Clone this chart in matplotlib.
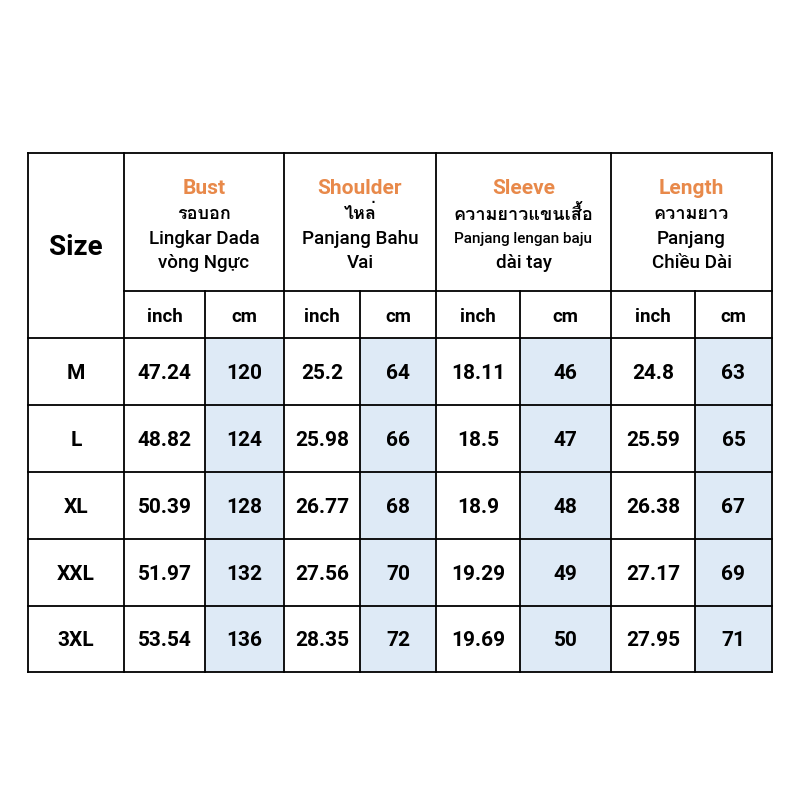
import matplotlib
matplotlib.use("Agg")
import matplotlib.pyplot as plt
from matplotlib.patches import Rectangle
from matplotlib import font_manager
from matplotlib.ft2font import FT2Font

# --- data ---
sizes = ["M", "L", "XL", "XXL", "3XL"]
measures = ["Bust", "Shoulder", "Sleeve", "Length"]
thai_names = ["รอบอก", "ไหล่", "ความยาวแขนเสื้อ", "ความยาว"]
other_names = [["Lingkar Dada", "vòng Ngực"],
               ["Panjang Bahu", "Vai"],
               ["Panjang lengan baju", "dài tay"],
               ["Panjang", "Chiều Dài"]]
bust_in = ["47.24", "48.82", "50.39", "51.97", "53.54"]
bust_cm = ["120", "124", "128", "132", "136"]
shoulder_in = ["25.2", "25.98", "26.77", "27.56", "28.35"]
shoulder_cm = ["64", "66", "68", "70", "72"]
sleeve_in = ["18.11", "18.5", "18.9", "19.29", "19.69"]
sleeve_cm = ["46", "47", "48", "49", "50"]
length_in = ["24.8", "25.59", "26.38", "27.17", "27.95"]
length_cm = ["63", "65", "67", "69", "71"]
units = ["inch", "cm"]

columns = [bust_in, bust_cm, shoulder_in, shoulder_cm,
           sleeve_in, sleeve_cm, length_in, length_cm]

# find a font that has Thai glyphs, if any is installed
thai_font = None
for f in font_manager.fontManager.ttflist:
    try:
        if 0x0E2D in FT2Font(f.fname).get_charmap():
            thai_font = f.name
            break
    except Exception:
        pass

fams = ["Roboto"] + ([thai_font] if thai_font else []) + ["DejaVu Sans"]
plt.rcParams["font.family"] = fams

# --- layout (pixels) ---
xs = [28, 124, 205, 284, 360, 436, 520, 611, 695, 772]
ys = [153, 291, 338, 405, 472, 539, 606, 672]
orange = "#E8894A"
blue = "#DEEAF6"

fig = plt.figure(figsize=(8, 8), dpi=100)
ax = fig.add_axes([0, 0, 1, 1])
ax.set_xlim(0, 800)
ax.set_ylim(800, 0)
ax.axis("off")

# blue cm cells
for c in range(len(columns)):
    if c % 2 == 1:
        for r in range(len(sizes)):
            ax.add_patch(Rectangle((xs[c + 1], ys[r + 2]), xs[c + 2] - xs[c + 1],
                                   ys[r + 3] - ys[r + 2], fc=blue, ec="none"))

lw = 1.3
# horizontal lines
ax.plot([xs[0], xs[-1]], [ys[0], ys[0]], c="k", lw=lw)
ax.plot([xs[1], xs[-1]], [ys[1], ys[1]], c="k", lw=lw)
for y in ys[2:]:
    ax.plot([xs[0], xs[-1]], [y, y], c="k", lw=lw)
# vertical lines
for i, x in enumerate(xs):
    if i in (0, 1, 3, 5, 7, 9):
        ax.plot([x, x], [ys[0], ys[-1]], c="k", lw=lw)
    else:
        ax.plot([x, x], [ys[1], ys[-1]], c="k", lw=lw)

ax.text((xs[0] + xs[1]) / 2, (ys[0] + ys[2]) / 2 + 2, "Size", ha="center", va="center",
        fontsize=20, fontweight="bold")

for m in range(len(measures)):
    cx = (xs[2 * m + 1] + xs[2 * m + 3]) / 2
    ax.text(cx, 188, measures[m], ha="center", va="center", fontsize=15,
            fontweight="bold", color=orange)
    ax.text(cx, 214, thai_names[m], ha="center", va="center", fontsize=13,
            fontweight="bold")
    fs = 11 if len(other_names[m][0]) > 15 else 13.5
    ax.text(cx, 239, other_names[m][0], ha="center", va="center", fontsize=fs,
            fontweight="medium")
    ax.text(cx, 263, other_names[m][1], ha="center", va="center", fontsize=13.5,
            fontweight="medium")
    for u in range(2):
        ux = (xs[2 * m + 1 + u] + xs[2 * m + 2 + u]) / 2
        ax.text(ux, (ys[1] + ys[2]) / 2 + 2, units[u], ha="center", va="center",
                fontsize=13.5, fontweight="bold")

for r in range(len(sizes)):
    cy = (ys[r + 2] + ys[r + 3]) / 2 + 2
    ax.text((xs[0] + xs[1]) / 2, cy, sizes[r], ha="center", va="center",
            fontsize=15, fontweight="bold")
    for c in range(len(columns)):
        ax.text((xs[c + 1] + xs[c + 2]) / 2, cy, columns[c][r], ha="center",
                va="center", fontsize=15, fontweight="bold")

fig.savefig("out.png", dpi=100, facecolor="white")
